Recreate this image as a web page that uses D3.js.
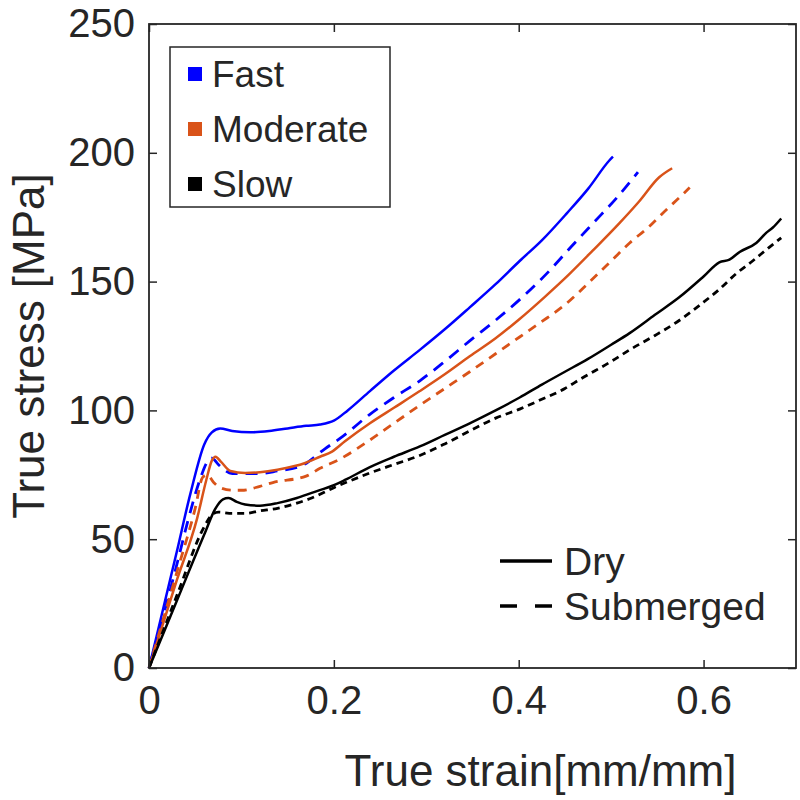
<!DOCTYPE html>
<html><head><meta charset="utf-8">
<script src="https://cdn.jsdelivr.net/npm/d3@7"></script>
<style>body{margin:0;background:#fff}svg{display:block}text{font-family:"Liberation Sans",Arial,sans-serif;fill:#262626}</style>
</head><body><div id="chart"></div>
<script>
// ---- data (true strain [mm/mm], true stress [MPa]) ----
const fastDry = [[0,0],[0.03,45],[0.045,68],[0.06,87],[0.068,91.5],[0.077,93],[0.09,92],[0.11,91.5],[0.13,92],[0.15,93],[0.17,94],[0.185,94.5],[0.2,96],[0.215,100],[0.239,107.5],[0.265,115.5],[0.293,123.5],[0.32,131.5],[0.347,140],[0.375,149],[0.401,158],[0.425,166],[0.452,176.5],[0.475,186],[0.498,197],[0.502,198.5]];
const fastSub = [[0,0],[0.03,40],[0.042,57],[0.055,73],[0.063,80],[0.068,81.5],[0.075,79],[0.09,75.5],[0.104,75.5],[0.12,75.5],[0.139,76.5],[0.165,78.5],[0.19,85],[0.21,90],[0.239,98.5],[0.265,105],[0.293,111.5],[0.32,119],[0.347,127],[0.375,135],[0.401,143],[0.43,153],[0.458,164],[0.48,172.5],[0.506,182.5],[0.529,192.5]];
const modDry = [[0,0],[0.03,34],[0.052,58],[0.062,73],[0.068,80.5],[0.072,82],[0.078,80],[0.088,76.5],[0.104,75.7],[0.12,76],[0.139,77],[0.169,79.6],[0.185,82],[0.198,84],[0.212,88],[0.239,95],[0.265,101],[0.293,107.5],[0.32,114],[0.347,121],[0.375,128],[0.401,135.5],[0.428,144],[0.455,153],[0.48,162],[0.509,172.7],[0.53,181],[0.552,190.5],[0.566,194]];
const modSub = [[0,0],[0.03,37],[0.05,62],[0.058,74],[0.063,75],[0.07,72],[0.077,70],[0.09,69],[0.1,69],[0.12,70.5],[0.134,72],[0.17,74.5],[0.185,77.5],[0.206,81],[0.239,88.5],[0.265,95],[0.293,102],[0.32,108.5],[0.347,115],[0.375,122],[0.401,128.5],[0.423,134],[0.45,141],[0.477,150],[0.5,158],[0.52,165],[0.54,171],[0.56,178],[0.575,183],[0.585,186.5]];
const slowDry = [[0,0],[0.03,26],[0.06,52],[0.072,62],[0.08,65.5],[0.086,66],[0.095,64.5],[0.104,63.5],[0.12,63],[0.139,64],[0.16,66],[0.176,68],[0.2,71],[0.212,73],[0.239,78],[0.265,82],[0.293,86],[0.32,90.5],[0.347,95],[0.375,100],[0.401,105],[0.425,110],[0.45,115],[0.475,120],[0.5,125.5],[0.52,130],[0.547,137],[0.574,144],[0.6,152],[0.617,157.5],[0.628,158.5],[0.639,161.5],[0.657,165],[0.668,169],[0.675,171],[0.684,174.5]];
const slowSub = [[0,0],[0.03,28],[0.06,55],[0.068,59.5],[0.075,60.5],[0.09,60],[0.104,60],[0.12,61],[0.139,62],[0.16,64],[0.176,66],[0.2,70],[0.239,75.7],[0.265,79],[0.293,82.5],[0.32,87],[0.347,92],[0.375,97],[0.401,100.5],[0.423,104],[0.45,108.5],[0.466,112],[0.5,119],[0.52,123.5],[0.547,129],[0.574,135],[0.6,142],[0.617,147],[0.635,153],[0.653,158],[0.67,163],[0.684,167]];

const rateNames = ["Fast","Moderate","Slow"];
const rateColors = ["#0000ff","#d95319","#000000"];
const condNames = ["Dry","Submerged"];
const xTicks = [0,0.2,0.4,0.6];
const yTicks = [0,50,100,150,200,250];
const xLabel = "True strain[mm/mm]";
const yLabel = "True stress [MPa]";

const series = [
  {data: fastDry, rate: 0, cond: 0},
  {data: fastSub, rate: 0, cond: 1},
  {data: modDry, rate: 1, cond: 0},
  {data: modSub, rate: 1, cond: 1},
  {data: slowDry, rate: 2, cond: 0},
  {data: slowSub, rate: 2, cond: 1}
];

const W = 800, H = 800;
const L = 149, R = 796, T = 24, B = 668;
const svg = d3.select("#chart").append("svg").attr("width", W).attr("height", H);
const x = d3.scaleLinear().domain([0, 0.7]).range([L, R]);
const y = d3.scaleLinear().domain([0, 250]).range([B, T]);

const line = d3.line().x(d => x(d[0])).y(d => y(d[1])).curve(d3.curveMonotoneX);

const dashes = ["12,8", "9,7", "7,5"];
series.forEach(s => {
  svg.append("path").datum(s.data)
    .attr("d", line)
    .attr("fill", "none")
    .attr("stroke", rateColors[s.rate])
    .attr("stroke-width", s.cond === 1 ? 2.8 : 2.5)
    .attr("stroke-linejoin", "round")
    .attr("stroke-dasharray", s.cond === 1 ? dashes[s.rate] : null);
});

// axes (MATLAB box style)
const tickLen = 8;
const axisColor = "#262626";
const gx = svg.append("g").attr("transform", `translate(0,${B})`)
  .call(d3.axisBottom(x).tickValues(xTicks).tickFormat(d => d === 0 ? "0" : d3.format(".1f")(d)).tickSize(-tickLen).tickPadding(18));
const gxt = svg.append("g").attr("transform", `translate(0,${T})`)
  .call(d3.axisTop(x).tickValues(xTicks).tickFormat("").tickSize(-tickLen));
const gy = svg.append("g").attr("transform", `translate(${L},0)`)
  .call(d3.axisLeft(y).tickValues(yTicks).tickSize(-tickLen).tickPadding(14));
const gyr = svg.append("g").attr("transform", `translate(${R},0)`)
  .call(d3.axisRight(y).tickValues(yTicks).tickFormat("").tickSize(-tickLen));
[gx, gxt, gy, gyr].forEach(g => {
  g.select(".domain").remove();
  g.selectAll("line").attr("stroke", axisColor).attr("stroke-width", 1.5);
  g.selectAll("text").style("font-size", "40px").attr("fill", "#262626");
});
svg.append("rect").attr("x", L).attr("y", T).attr("width", R - L).attr("height", B - T)
  .attr("fill", "none").attr("stroke", axisColor).attr("stroke-width", 1.8);

// axis labels
svg.append("text").attr("x", (L + R) / 2 + 68).attr("y", 786).attr("text-anchor", "middle")
  .style("font-size", "44px").text(xLabel);
svg.append("text").attr("transform", `translate(44,${(T + B) / 2}) rotate(-90)`).attr("text-anchor", "middle")
  .style("font-size", "44px").text(yLabel);

// rate legend
const lg = svg.append("g");
lg.append("rect").attr("x", 170).attr("y", 47).attr("width", 220).attr("height", 160)
  .attr("fill", "#fff").attr("stroke", axisColor).attr("stroke-width", 1.5);
rateNames.forEach((n, i) => {
  const cy = 74 + i * 55;
  lg.append("rect").attr("x", 188).attr("y", cy - 7).attr("width", 14).attr("height", 14).attr("fill", rateColors[i]);
  lg.append("text").attr("x", 212).attr("y", cy).attr("dy", "0.36em").style("font-size", "37px").text(n);
});

// condition legend
const cg = svg.append("g");
condNames.forEach((n, i) => {
  const cy = 561 + i * 45;
  cg.append("line").attr("x1", 500).attr("x2", 552).attr("y1", cy).attr("y2", cy)
    .attr("stroke", "#000").attr("stroke-width", 3.5)
    .attr("stroke-dasharray", i === 1 ? "17,18" : null);
  cg.append("text").attr("x", 564).attr("y", cy).attr("dy", "0.36em").style("font-size", "39px").text(n);
});
</script></body></html>
